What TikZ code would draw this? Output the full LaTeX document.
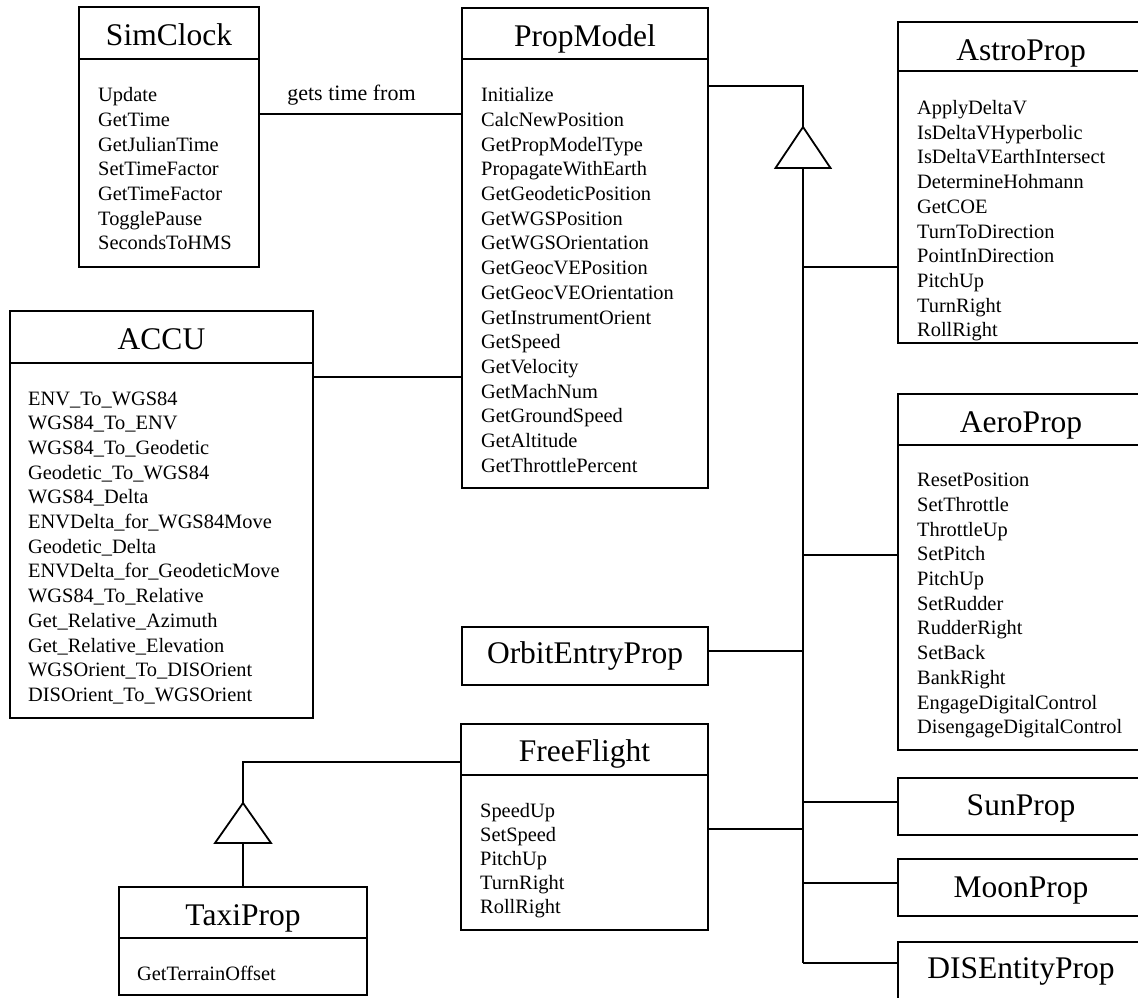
\documentclass[tikz,border=0pt]{standalone}
\usepackage{fontspec}
\setmainfont{Liberation Serif}
\begin{document}
\begin{tikzpicture}[x=1pt,y=-1pt,
  classbox/.style={draw, line width=1.8pt, anchor=north west, inner sep=0pt, outer sep=0pt},
  wire/.style={line width=1.8pt},
  divider/.style={line width=1.8pt},
  gentri/.style={line width=1.8pt, fill=white, line join=miter},
  ctitle/.style={anchor=base, font=\fontsize{31.5}{36}\selectfont, inner sep=0pt},
  meth/.style={anchor=base west, font=\fontsize{20.4}{24}\selectfont, inner sep=0pt},
  assoc/.style={anchor=base, font=\fontsize{22}{26}\selectfont, inner sep=0pt}]

\useasboundingbox (0,0) rectangle (1138,997);
\clip (0,0) rectangle (1138,997);

% ---------- class boxes ----------
\node[classbox, minimum width=180pt, minimum height=260pt] (simclock) at (79,7) {};
\node[classbox, minimum width=246pt, minimum height=480pt] (propmodel) at (462,8) {};
\node[classbox, minimum width=246pt, minimum height=321pt] (astro) at (898,22) {};
\node[classbox, minimum width=303pt, minimum height=407pt] (accu) at (10,311) {};
\node[classbox, minimum width=246pt, minimum height=356pt] (aero) at (898,394) {};
\node[classbox, minimum width=246pt, minimum height=58pt] (orbit) at (462,627) {};
\node[classbox, minimum width=247pt, minimum height=206pt] (free) at (461,724) {};
\node[classbox, minimum width=248pt, minimum height=108pt] (taxi) at (119,887) {};
\node[classbox, minimum width=246pt, minimum height=57pt] (sun) at (898,778) {};
\node[classbox, minimum width=246pt, minimum height=57pt] (moon) at (898,859) {};
\node[classbox, minimum width=246pt, minimum height=80pt] (dis) at (898,942) {};

% compartment dividers
\draw[divider] (simclock.west |- 0,59) -- (simclock.east |- 0,59);
\draw[divider] (propmodel.west |- 0,59) -- (propmodel.east |- 0,59);
\draw[divider] (astro.west |- 0,71) -- (astro.east |- 0,71);
\draw[divider] (accu.west |- 0,363) -- (accu.east |- 0,363);
\draw[divider] (aero.west |- 0,445) -- (aero.east |- 0,445);
\draw[divider] (free.west |- 0,775) -- (free.east |- 0,775);
\draw[divider] (taxi.west |- 0,938) -- (taxi.east |- 0,938);

% ---------- class names ----------
\node[ctitle] (simclock-t) at (169,45) {SimClock};
\node[ctitle] (propmodel-t) at (585,46) {PropModel};
\node[ctitle] (astro-t) at (1021,60) {AstroProp};
\node[ctitle] (accu-t) at (161.5,349) {ACCU};
\node[ctitle] (aero-t) at (1021,432) {AeroProp};
\node[ctitle] (orbit-t) at (585,663) {OrbitEntryProp};
\node[ctitle] (free-t) at (584.5,761) {FreeFlight};
\node[ctitle] (taxi-t) at (243,925) {TaxiProp};
\node[ctitle] (sun-t) at (1021,815) {SunProp};
\node[ctitle] (moon-t) at (1021,897) {MoonProp};
\node[ctitle] (dis-t) at (1021,978) {DISEntityProp};

% ---------- operations ----------
\foreach \m [count=\i from 0] in {Update,GetTime,GetJulianTime,SetTimeFactor,
  GetTimeFactor,TogglePause,SecondsToHMS}
  \node[meth] (simclock-m\i) at (98,{101.7+24.7*\i}) {\m};

\foreach \m [count=\i from 0] in {Initialize,CalcNewPosition,GetPropModelType,
  PropagateWithEarth,GetGeodeticPosition,GetWGSPosition,GetWGSOrientation,
  GetGeocVEPosition,GetGeocVEOrientation,GetInstrumentOrient,GetSpeed,
  GetVelocity,GetMachNum,GetGroundSpeed,GetAltitude,GetThrottlePercent}
  \node[meth] (propmodel-m\i) at (481,{101.7+24.7*\i}) {\m};

\foreach \m [count=\i from 0] in {ApplyDeltaV,IsDeltaVHyperbolic,
  IsDeltaVEarthIntersect,DetermineHohmann,GetCOE,TurnToDirection,
  PointInDirection,PitchUp,TurnRight,RollRight}
  \node[meth] (astro-m\i) at (917,{114.5+24.7*\i}) {\m};

\foreach \m [count=\i from 0] in {ENV\_To\_WGS84,WGS84\_To\_ENV,
  WGS84\_To\_Geodetic,Geodetic\_To\_WGS84,WGS84\_Delta,
  ENVDelta\_for\_WGS84Move,Geodetic\_Delta,ENVDelta\_for\_GeodeticMove,
  WGS84\_To\_Relative,Get\_Relative\_Azimuth,Get\_Relative\_Elevation,
  WGSOrient\_To\_DISOrient,DISOrient\_To\_WGSOrient}
  \node[meth] (accu-m\i) at (28,{405+24.7*\i}) {\m};

\foreach \m [count=\i from 0] in {ResetPosition,SetThrottle,ThrottleUp,
  SetPitch,PitchUp,SetRudder,RudderRight,SetBack,BankRight,
  EngageDigitalControl,DisengageDigitalControl}
  \node[meth] (aero-m\i) at (917,{486.7+24.7*\i}) {\m};

\foreach \m [count=\i from 0] in {SpeedUp,SetSpeed,PitchUp,TurnRight,RollRight}
  \node[meth] (free-m\i) at (480,{817+24.2*\i}) {\m};

\node[meth] (taxi-m0) at (137,980) {GetTerrainOffset};

% ---------- associations ----------
\node[assoc] (gets) at (351.5,100) {gets time from};
\draw[wire] (simclock.east |- 0,114) -- (propmodel.west |- 0,114);
\draw[wire] (accu.east |- 0,377) -- (propmodel.west |- 0,377);

% ---------- generalisation: PropModel and its subclasses ----------
\coordinate (apex) at (803,127);
\coordinate (base) at (803,168);
\coordinate (spineend) at (803,963);
\draw[wire] (propmodel.east |- 0,86) -| (apex);
\draw[gentri] (apex) -- (775.5,168) -- (830.5,168) -- cycle;
\draw[wire] (base) -- (spineend);

\coordinate (j-astro) at (803,267);
\coordinate (j-aero) at (803,555);
\coordinate (j-orbit) at (803,651);
\coordinate (j-sun) at (803,802);
\coordinate (j-free) at (803,829);
\coordinate (j-moon) at (803,883);

\draw[wire] (j-astro) -- (astro.west |- j-astro);
\draw[wire] (j-aero) -- (aero.west |- j-aero);
\draw[wire] (orbit.east |- j-orbit) -- (j-orbit);
\draw[wire] (j-sun) -- (sun.west |- j-sun);
\draw[wire] (free.east |- j-free) -- (j-free);
\draw[wire] (j-moon) -- (moon.west |- j-moon);
\draw[wire] (spineend) -- (dis.west |- spineend);

% ---------- generalisation: FreeFlight and TaxiProp ----------
\coordinate (apex2) at (243,803);
\coordinate (base2) at (243,843);
\draw[wire] (free.west |- 0,762) -| (apex2);
\draw[gentri] (apex2) -- (215,843) -- (271,843) -- cycle;
\draw[wire] (base2) -- (taxi.north);

\end{tikzpicture}
\end{document}
